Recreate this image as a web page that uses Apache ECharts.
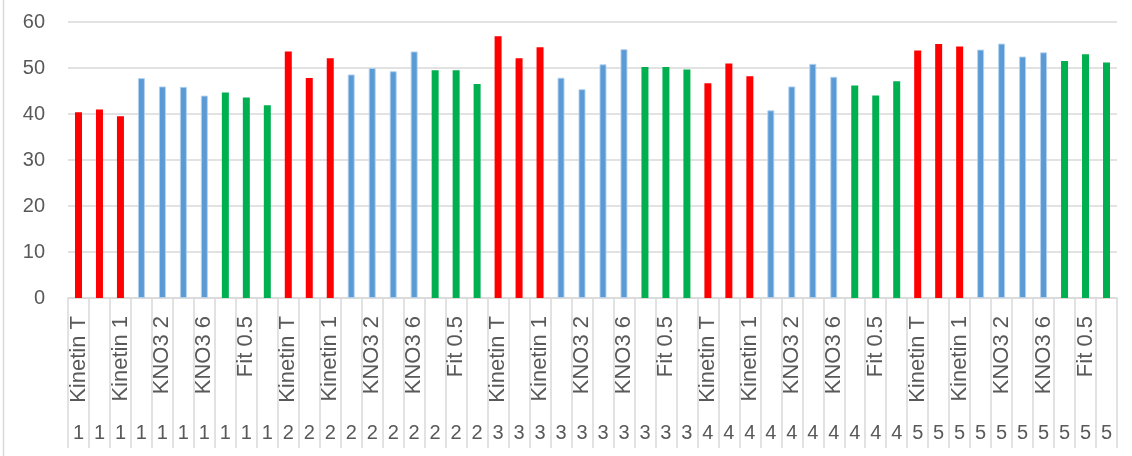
<!DOCTYPE html>
<html>
<head>
<meta charset="utf-8">
<script src="https://cdn.jsdelivr.net/npm/echarts@6/dist/echarts.min.js"></script>
<style>
html,body{margin:0;padding:0;background:#fff;}
#chart{width:1132px;height:456px;}
</style>
</head>
<body>
<div id="chart"></div>
<script>
// Treatments within each replicate group (only every other name is shown on the axis)
const treatments = ['Kinetin T','Kinetin 0.5','Kinetin 1','KNO3 1','KNO3 2','KNO3 4','KNO3 6','Fit 0.25','Fit 0.5','Fit 1'];
const groups = ['1','2','3','4','5'];
// Values per replicate group, in treatment order
const rep1 = [40.4, 41.0, 39.5, 47.8, 46.0, 45.9, 44.0, 44.7, 43.6, 41.9];
const rep2 = [53.6, 47.8, 52.1, 48.6, 50.0, 49.3, 53.6, 49.5, 49.5, 46.5];
const rep3 = [56.9, 52.1, 54.5, 47.9, 45.4, 50.8, 54.1, 50.2, 50.2, 49.7];
const rep4 = [46.7, 51.0, 48.2, 40.8, 46.0, 50.9, 48.1, 46.2, 44.0, 47.1];
const rep5 = [53.8, 55.2, 54.7, 54.0, 55.3, 52.5, 53.4, 51.5, 53.0, 51.2];
const yTicks = [0, 10, 20, 30, 40, 50, 60];

const RED = '#FF0000', BLUE = '#5B9BD5', GREEN = '#00B050';
const treatmentColors = [RED, RED, RED, BLUE, BLUE, BLUE, BLUE, GREEN, GREEN, GREEN];

const reps = [rep1, rep2, rep3, rep4, rep5];
const innerLabels = [];
const outerLabels = [];
const barData = [];
reps.forEach((rep, g) => {
  rep.forEach((v, i) => {
    innerLabels.push(treatments[i]);
    outerLabels.push(groups[g]);
    const c = treatmentColors[i];
    barData.push({
      value: v,
      itemStyle: c === BLUE
        ? { color: c, borderColor: 'rgba(180,210,238,0.9)', borderWidth: 1 }
        : { color: c }
    });
  });
});

const textColor = '#595959';
const lineColor = '#D9D9D9';
const fontFamily = '"Liberation Sans", Arial, sans-serif';

const chart = echarts.init(document.getElementById('chart'), null, { renderer: 'canvas' });
chart.setOption({
  animation: false,
  backgroundColor: '#ffffff',
  grid: { left: 68, right: 15, top: 22, bottom: 158, containLabel: false },
  xAxis: [
    {
      type: 'category',
      data: innerLabels,
      position: 'bottom',
      boundaryGap: true,
      axisLine: { show: true, lineStyle: { color: lineColor, width: 1.5 } },
      axisTick: { show: true, interval: 0, alignWithLabel: false, length: 150, lineStyle: { color: lineColor, width: 1.5 } },
      axisLabel: {
        interval: 1, rotate: 90, margin: 18,
        color: textColor, fontSize: 22, fontFamily: fontFamily
      },
      splitLine: { show: false }
    },
    {
      type: 'category',
      data: outerLabels,
      position: 'bottom',
      boundaryGap: true,
      axisLine: { show: false },
      axisTick: { show: false },
      axisLabel: {
        interval: 0, margin: 125,
        color: textColor, fontSize: 20, fontFamily: fontFamily
      },
      splitLine: { show: false }
    }
  ],
  yAxis: {
    type: 'value',
    min: yTicks[0],
    max: yTicks[yTicks.length - 1],
    interval: 10,
    axisLine: { show: false },
    axisTick: { show: false },
    axisLabel: { margin: 23, color: textColor, fontSize: 20, fontFamily: fontFamily },
    splitLine: { show: true, lineStyle: { color: lineColor, width: 1.5 } }
  },
  series: [
    {
      type: 'bar',
      xAxisIndex: 0,
      data: barData,
      barWidth: 7
    }
  ],
  graphic: [
    {
      type: 'line',
      shape: { x1: 3.5, y1: 0, x2: 3.5, y2: 456 },
      style: { stroke: lineColor, lineWidth: 1.5 },
      silent: true
    }
  ]
});
</script>
</body>
</html>
